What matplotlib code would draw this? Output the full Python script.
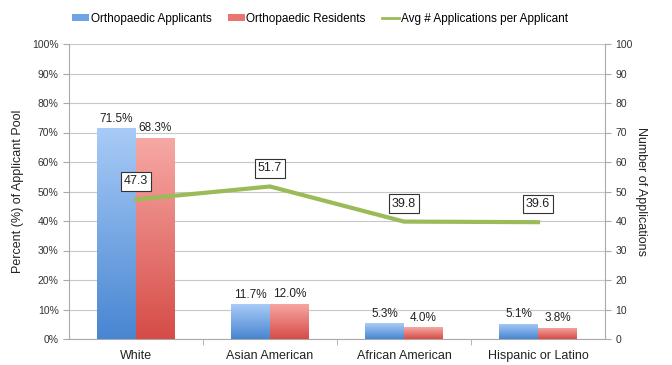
import matplotlib.pyplot as plt
import numpy as np
from matplotlib.colors import LinearSegmentedColormap
from matplotlib.patches import Patch
from matplotlib.lines import Line2D

categories = ['White', 'Asian American', 'African American', 'Hispanic or Latino']
applicants = [71.5, 11.7, 5.3, 5.1]
residents = [68.3, 12.0, 4.0, 3.8]
avg_apps = [47.3, 51.7, 39.8, 39.6]

plt.rcParams['font.family'] = ['Liberation Sans', 'DejaVu Sans']

fig = plt.figure(figsize=(6.72, 3.65), dpi=100)
ax = fig.add_axes([69 / 672, 26 / 365, 536 / 672, 295 / 365])
ax2 = ax.twinx()

x = np.arange(len(categories))
w = 0.29

blue_cmap = LinearSegmentedColormap.from_list('b', ['#4886d2', '#a9cbf7'])
red_cmap = LinearSegmentedColormap.from_list('r', ['#d64c47', '#f7a9a5'])
grad = np.linspace(0, 1, 256).reshape(-1, 1)


def gradient_bars(xs, vals, cmap):
    bars = ax.bar(xs, vals, w, color='none', edgecolor='none', zorder=3)
    for b in bars:
        x0 = b.get_x()
        im = ax.imshow(grad, cmap=cmap, aspect='auto', origin='lower',
                       extent=[x0, x0 + b.get_width(), 0, b.get_height()], zorder=3)
        im.set_clip_path(b)
    return bars


gradient_bars(x - w / 2, applicants, blue_cmap)
gradient_bars(x + w / 2, residents, red_cmap)

for xs, vals in ((x - w / 2, applicants), (x + w / 2, residents)):
    for xi, v in zip(xs, vals):
        ax.text(xi, v + 1.2, f'{v:.1f}%', ha='center', va='bottom', fontsize=8.5, color='#222222', zorder=5)

ax.set_xlim(-0.5, len(categories) - 0.5)
ax.set_ylim(0, 100)
ax.set_yticks(np.arange(0, 101, 10))
ax.set_yticklabels([f'{t}%' for t in range(0, 101, 10)], fontsize=7.5, color='#333333')
ax.set_xticks(x)
ax.set_xticklabels(categories, fontsize=9, color='#222222')
ax.set_xticks(np.arange(0.5, len(categories) - 1, 1), minor=True)
ax.tick_params(axis='x', which='major', length=0, pad=8)
ax.tick_params(axis='x', which='minor', length=4, color='#aaaaaa')
ax.tick_params(axis='y', length=4, color='#aaaaaa')
ax.grid(axis='y', color='#c8c8c8', linewidth=0.8, zorder=0)
ax.set_axisbelow(True)
for s in ['top', 'right']:
    ax.spines[s].set_visible(False)
for s in ['left', 'bottom']:
    ax.spines[s].set_color('#aaaaaa')
ax.set_ylabel('Percent (%) of Applicant Pool', fontsize=9, color='#222222', labelpad=6)

ax2.plot(x, avg_apps, color='#9bbb59', linewidth=3, zorder=6)
for xi, v in zip(x, avg_apps):
    ax2.annotate(f'{v:.1f}', (xi, v), xytext=(0, 13), textcoords='offset points',
                 ha='center', va='center', fontsize=9, color='#222222',
                 bbox=dict(boxstyle='square,pad=0.25', facecolor='white', edgecolor='#333333', linewidth=0.8),
                 zorder=7)
ax2.set_ylim(0, 100)
ax2.set_yticks(np.arange(0, 101, 10))
ax2.tick_params(axis='y', labelsize=7.5, labelcolor='#333333', length=4, color='#aaaaaa')
for s in ['top', 'left', 'bottom']:
    ax2.spines[s].set_visible(False)
ax2.spines['right'].set_color('#aaaaaa')
ax2.set_ylabel('Number of Applications', fontsize=9, color='#222222', rotation=270, labelpad=10)

handles = [Patch(facecolor='#6fa3e6', edgecolor='none'),
           Patch(facecolor='#e97470', edgecolor='none'),
           Line2D([0], [0], color='#9bbb59', linewidth=2)]
fig.legend(handles, ['Orthopaedic Applicants', 'Orthopaedic Residents', 'Avg # Applications per Applicant'],
           loc='center', bbox_to_anchor=(320 / 672, 1 - 19 / 365), ncol=3, frameon=False,
           fontsize=8.5, handlelength=1.4, handleheight=0.55, handletextpad=0.15, columnspacing=1.4)

fig.savefig('out.png', dpi=100)
